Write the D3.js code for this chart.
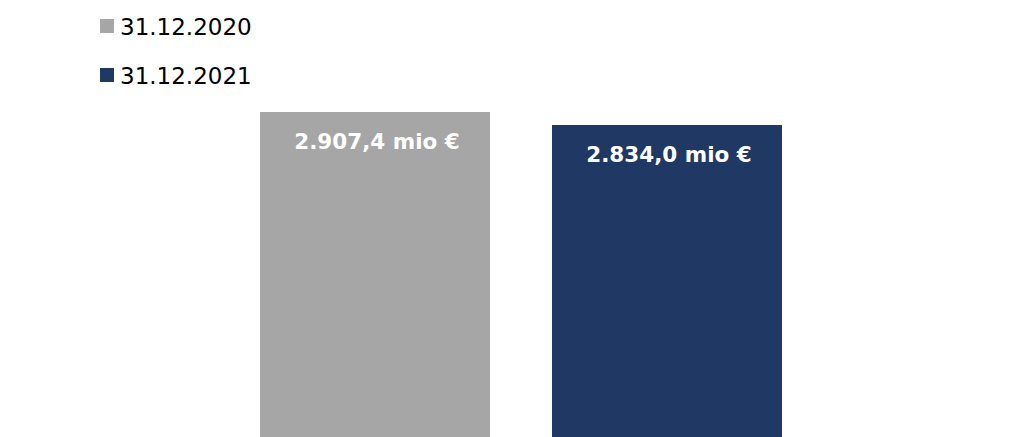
<!DOCTYPE html>
<html>
<head>
<meta charset="utf-8">
<script src="https://cdn.jsdelivr.net/npm/d3@7"></script>
<style>
  html, body { margin: 0; padding: 0; background: #fff; }
  svg { display: block; }
</style>
</head>
<body>
<svg id="chart" width="1019" height="437"></svg>
<script>
// Balance at year end, in millions of euros
const categories = ["31.12.2020", "31.12.2021"];
const values = [2907.4, 2834.0];
const valueLabels = ["2.907,4 mio €", "2.834,0 mio €"];
const colors = ["#A6A6A6", "#203864"];

const svg = d3.select("#chart");
const font = "'DejaVu Sans', Verdana, sans-serif";

const x = d3.scaleBand()
  .domain(categories)
  .range([114, 928])
  .paddingInner(0.2123)
  .paddingOuter(0.5);

// Baseline sits below the visible area, so the bars run off the bottom edge
const y = d3.scaleLinear()
  .domain([0, 3000])
  .range([627, 95.6]);

const data = categories.map((c, i) => ({ cat: c, value: values[i], label: valueLabels[i], color: colors[i] }));

svg.selectAll("rect.bar")
  .data(data)
  .join("rect")
  .attr("class", "bar")
  .attr("x", d => x(d.cat))
  .attr("y", d => y(d.value))
  .attr("width", x.bandwidth())
  .attr("height", d => y(0) - y(d.value))
  .attr("fill", d => d.color);

svg.selectAll("text.val")
  .data(data)
  .join("text")
  .attr("class", "val")
  .attr("x", d => x(d.cat) + x.bandwidth() / 2 + 2)
  .attr("y", d => y(d.value) + 37)
  .attr("text-anchor", "middle")
  .attr("fill", "#fff")
  .attr("font-family", font)
  .attr("font-weight", "bold")
  .attr("font-size", 21.5)
  .text(d => d.label);

// Legend
const legend = svg.append("g");
const items = legend.selectAll("g")
  .data(data)
  .join("g")
  .attr("transform", (d, i) => `translate(100, ${19 + i * 49})`);

items.append("rect")
  .attr("width", 14)
  .attr("height", 14)
  .attr("fill", d => d.color);

items.append("text")
  .attr("x", 20)
  .attr("y", 16)
  .attr("font-family", font)
  .attr("font-size", 23)
  .attr("fill", "#000")
  .text(d => d.cat);
</script>
</body>
</html>
